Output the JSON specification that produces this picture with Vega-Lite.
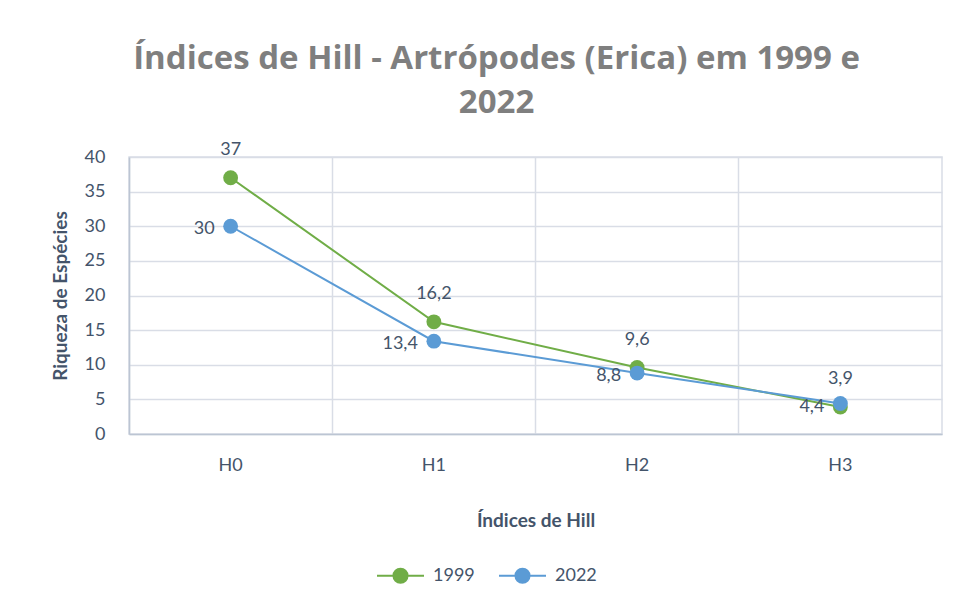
{
  "$schema": "https://vega.github.io/schema/vega-lite/v6.json",
  "width": 813,
  "height": 277,
  "padding": {"left": 51, "top": 42, "right": 18, "bottom": 10},
  "background": "white",
  "title": {
    "text": ["Índices de Hill - Artrópodes (Erica) em 1999 e", "2022"],
    "font": "Open Sans",
    "fontSize": 33,
    "fontWeight": "bold",
    "color": "#7f7f7f",
    "anchor": "middle",
    "frame": "bounds",
    "lineHeight": 44,
    "offset": 21
  },
  "data": {
    "values": [
      {"indice": "H0", "ano": "1999", "valor": 37},
      {"indice": "H1", "ano": "1999", "valor": 16.2},
      {"indice": "H2", "ano": "1999", "valor": 9.6},
      {"indice": "H3", "ano": "1999", "valor": 3.9},
      {"indice": "H0", "ano": "2022", "valor": 30},
      {"indice": "H1", "ano": "2022", "valor": 13.4},
      {"indice": "H2", "ano": "2022", "valor": 8.8},
      {"indice": "H3", "ano": "2022", "valor": 4.4}
    ]
  },
  "encoding": {
    "x": {
      "field": "indice",
      "type": "nominal",
      "sort": null,
      "scale": {"type": "band", "paddingInner": 0, "paddingOuter": 0},
      "axis": {
        "title": "Índices de Hill",
        "labelAngle": 0,
        "bandPosition": 0,
        "ticks": false,
        "labelPadding": 22,
        "titlePadding": 37,
        "grid": true,
        "labelBound": false
      }
    },
    "y": {
      "field": "valor",
      "type": "quantitative",
      "scale": {"domain": [0, 40]},
      "axis": {
        "title": "Riqueza de Espécies",
        "values": [0, 5, 10, 15, 20, 25, 30, 35, 40],
        "ticks": false,
        "labelPadding": 24,
        "titlePadding": 14
      }
    },
    "color": {
      "field": "ano",
      "type": "nominal",
      "scale": {"domain": ["1999", "2022"], "range": ["#70ad47", "#5b9bd5"]},
      "legend": {
        "title": null,
        "orient": "none",
        "legendX": 247,
        "legendY": 394,
        "direction": "horizontal",
        "symbolType": "M-1,0L-0.3,0A0.3,0.3 0 1,1 0.3,0A0.3,0.3 0 1,1 -0.3,0M0.3,0L1,0",
        "symbolSize": 2209,
        "symbolStrokeWidth": 2,
        "labelFontSize": 18,
        "labelColor": "#44546a",
        "labelFont": "Lato",
        "labelOffset": 8,
        "columnPadding": 20
      }
    }
  },
  "layer": [
    {"mark": {"type": "line", "strokeWidth": 2}},
    {"mark": {"type": "point", "filled": true, "size": 220, "opacity": 1}},
    {
      "transform": [{"filter": "datum.ano == '1999'"}],
      "mark": {"type": "text", "dy": -28, "fontSize": 18, "font": "Lato", "color": "#44546a"},
      "encoding": {"text": {"field": "valor", "type": "quantitative", "format": "~g"}, "color": {"value": "#44546a"}}
    },
    {
      "transform": [{"filter": "datum.ano == '2022'"}],
      "mark": {"type": "text", "align": "right", "dx": -16, "dy": 3, "fontSize": 18, "font": "Lato", "color": "#44546a"},
      "encoding": {"text": {"field": "valor", "type": "quantitative", "format": "~g"}, "color": {"value": "#44546a"}}
    }
  ],
  "config": {
    "locale": {"number": {"decimal": ",", "thousands": ".", "grouping": [3], "currency": ["", " €"]}},
    "view": {"stroke": "#d9dde6", "strokeWidth": 1.5},
    "axis": {
      "labelFont": "Lato",
      "labelFontSize": 18,
      "labelColor": "#44546a",
      "titleFont": "Lato",
      "titleFontSize": 19,
      "titleFontWeight": "bold",
      "titleColor": "#44546a",
      "gridColor": "#d9dde6",
      "gridWidth": 1.5,
      "domainColor": "#bcc5d3",
      "domainWidth": 1.5
    }
  }
}
